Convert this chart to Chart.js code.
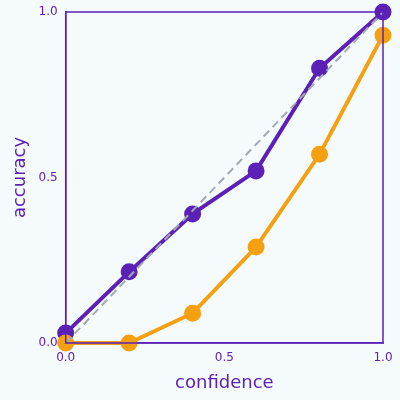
<!DOCTYPE html>
<html><head>
<script src="https://cdn.jsdelivr.net/npm/chart.js@4"></script>
<style>
html,body{margin:0;background:#f5fafd;}
#wrap{width:400px;height:400px;}
</style></head><body>
<div id="wrap"><canvas id="c"></canvas></div>
<script>
const confidence = [0, 0.2, 0.4, 0.6, 0.8, 1.0];
const modelA = [0.03, 0.215, 0.39, 0.52, 0.83, 1.0];
const modelB = [0, 0, 0.09, 0.29, 0.57, 0.93];
const diagonal = [0, 1];
const ticks = [0, 0.5, 1.0];

const purple = '#5b21b6';
const toPts = (xs, ys) => xs.map((x, i) => ({ x, y: ys[i] }));

const frame = {
  id: 'frame',
  afterDraw(chart) {
    const { ctx, chartArea: a } = chart;
    ctx.save();
    ctx.strokeStyle = purple;
    ctx.lineWidth = 1.5;
    ctx.strokeRect(a.left, a.top, a.right - a.left, a.bottom - a.top);
    ctx.restore();
  }
};

const axis = (title) => ({
  type: 'linear', min: 0, max: 1,
  afterBuildTicks: s => { s.ticks = ticks.map(v => ({ value: v })); },
  ticks: { color: purple, font: { family: 'DejaVu Sans', size: 12 }, callback: v => v.toFixed(1) },
  grid: { display: false, drawTicks: true, tickLength: 5, color: purple },
  border: { color: purple, width: 1.5 },
  title: { display: true, text: title, color: purple, font: { family: 'DejaVu Sans', size: 18 } }
});

new Chart(document.getElementById('c'), {
  type: 'line',
  data: {
    datasets: [
      { data: toPts(diagonal, diagonal), borderColor: '#a3a9b1', borderDash: [8, 5], borderWidth: 2, pointRadius: 0 },
      { data: toPts(confidence, modelB), borderColor: '#f5a011', backgroundColor: '#f5a011', borderWidth: 4, pointRadius: 6.5 },
      { data: toPts(confidence, modelA), borderColor: '#5b21b6', backgroundColor: '#5b21b6', borderWidth: 4, pointRadius: 6.5 }
    ]
  },
  options: {
    responsive: true, maintainAspectRatio: false, animation: false,
    clip: false,
    layout: { padding: { top: 12, right: 17, left: 6, bottom: 2 } },
    plugins: { legend: { display: false }, tooltip: { enabled: false } },
    scales: { x: axis('confidence'), y: axis('accuracy') }
  },
  plugins: [frame]
});
</script>
</body></html>
